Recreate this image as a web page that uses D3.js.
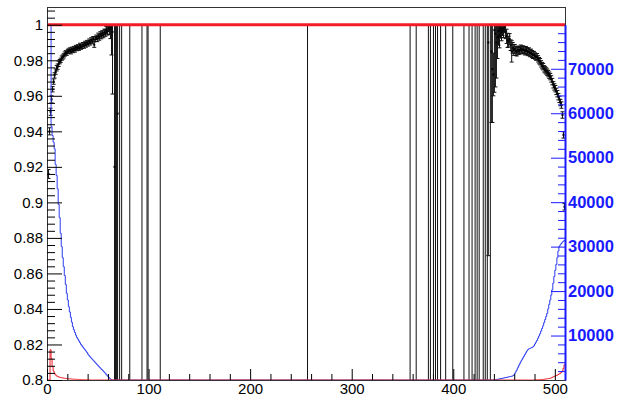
<!DOCTYPE html>
<html>
<head>
<meta charset="utf-8">
<script src="https://cdn.jsdelivr.net/npm/d3@7"></script>
<style>
  html, body { margin: 0; padding: 0; background: #fff; }
  svg { display: block; font-family: "Liberation Sans", Arial, Helvetica, sans-serif; }
</style>
</head>
<body>
<div id="chart"></div>
<script>
const nBins = 510;
const xTicks = [0, 100, 200, 300, 400, 500];
const yTicks = [0.8, 0.82, 0.84, 0.86, 0.88, 0.9, 0.92, 0.94, 0.96, 0.98, 1];
const rightTicks = [10000, 20000, 30000, 40000, 50000, 60000, 70000];
const rightMax = 79900;

// efficiency points: [bin, value, error]
const effLeft = [
  [1,0.916,0.0025],[2,0.940,0.002],[3,0.951,0.002],[4,0.958,0.002],[5,0.9637,0.0015],
  [6,0.968,0.0015],[7,0.9715,0.0015],[8,0.9736,0.0015],[9,0.9755,0.0015],[10,0.9764,0.0015],
  [11,0.978,0.0015],[12,0.9792,0.0012],[13,0.980,0.0012],[14,0.9812,0.0012],[15,0.9818,0.0012],
  [16,0.9825,0.0012],[17,0.9835,0.0012],[18,0.9842,0.0012],[19,0.984,0.0012],[20,0.985,0.0012],
  [21,0.9852,0.0012],[22,0.9858,0.0012],[23,0.9848,0.0012],[24,0.9862,0.0012],[25,0.9855,0.0012],
  [26,0.9866,0.0012],[27,0.9858,0.0012],[28,0.9872,0.0012],[29,0.9866,0.0012],[30,0.9876,0.0012],
  [31,0.9868,0.0012],[32,0.9884,0.0012],[33,0.9874,0.0012],[34,0.9878,0.0012],[35,0.9888,0.0012],
  [36,0.988,0.0012],[37,0.9895,0.0012],[38,0.9886,0.0012],[39,0.990,0.0012],[40,0.9892,0.0012],
  [41,0.9908,0.0012],[42,0.9898,0.0012],[43,0.9915,0.0012],[44,0.9905,0.0012],[45,0.9922,0.0012],
  [46,0.9888,0.0015],[47,0.9918,0.0012],[48,0.993,0.0012],[49,0.992,0.0015],[50,0.9938,0.0015],
  [51,0.9928,0.0015],[52,0.9946,0.0015],[53,0.9936,0.0015],[54,0.9952,0.0015],[55,0.9942,0.0015],
  [56,0.996,0.0015],[57,0.9955,0.002],[58,0.997,0.002],[59,0.9962,0.002],[60,0.9982,0.002],
  [61,0.9975,0.003],[62,0.9992,0.007],[63,0.998,0.015],[64,0.996,0.035],[66,0.92,0.14],[69,0.95,0.2]
];
const effRight = [
  [434,0.99,0.12],[437,0.985,0.04],[438,0.975,0.03],[439,0.972,0.012],
  [440,0.997,0.035],[441,0.995,0.03],[442,0.99,0.02],[443,0.993,0.012],[444,0.9965,0.008],
  [445,0.994,0.007],[446,0.9975,0.005],[447,0.996,0.005],[448,0.998,0.004],[449,0.9968,0.004],
  [450,0.9985,0.003],[451,0.9962,0.004],[452,0.9935,0.004],[453,0.9912,0.004],[454,0.9905,0.003],
  [455,0.992,0.003],[456,0.9885,0.003],[457,0.985,0.006],[458,0.987,0.003],[459,0.9858,0.003],
  [460,0.9864,0.0025],[461,0.9852,0.0025],[462,0.9849,0.0025],[463,0.986,0.002],[464,0.9852,0.002],
  [465,0.9858,0.002],[466,0.9866,0.002],[467,0.9856,0.002],[468,0.9862,0.002],[469,0.9858,0.002],
  [470,0.985,0.002],[471,0.9858,0.002],[472,0.9852,0.002],[473,0.9846,0.002],[474,0.985,0.002],
  [475,0.984,0.002],[476,0.9843,0.002],[477,0.9835,0.002],[478,0.983,0.002],[479,0.9832,0.0018],
  [480,0.9824,0.0018],[481,0.9818,0.0018],[482,0.982,0.0018],[483,0.9808,0.0018],[484,0.9798,0.0018],
  [485,0.9792,0.0018],[486,0.978,0.0018],[487,0.977,0.0018],[488,0.9764,0.0018],[489,0.9752,0.0018],
  [490,0.9746,0.0018],[491,0.974,0.0018],[492,0.9733,0.0018],[493,0.9725,0.0018],[494,0.9716,0.0018],
  [495,0.9708,0.0018],[496,0.9695,0.0018],[497,0.968,0.0018],[498,0.9662,0.0018],[499,0.965,0.0018],
  [500,0.964,0.0018],[501,0.9625,0.0018],[502,0.9612,0.0018],[503,0.9595,0.0018],[504,0.958,0.0018],
  [505,0.9562,0.0018],[506,0.9548,0.0018],[507,0.9492,0.0018],[508,0.938,0.0018],[509,0.8975,0.0018]
];
// bins at 1 whose error bar runs over the whole range
const openBins = [67,68,71,73,81,93,98,99,111,256,357,363,375,377,380,382,384,
  387,392,399,410,415,418,421,423,425,429,431,433,436];

// blue histogram (right axis), tails; bins between are empty
const blueLeft = [79800,79800,79800,79800,57000,55000,53500,52000,48500,46000,
  43000,39500,36500,33000,30000,27500,25500,23500,21500,19500,
  18000,16500,15300,14100,13000,12000,11300,10700,10100,9600,
  9200,8800,8400,8000,7700,7400,7100,6800,6500,6200,
  5800,5500,5200,4950,4700,4450,4200,3950,3700,3450,
  3200,2950,2700,2450,2250,2000,1750,1500,1200,950,
  700,450,200,50];
const blueRightStart = 440;
const blueRight = [0,40,90,140,190,240,290,340,390,440,
  490,540,590,640,690,740,790,850,920,1000,
  1400,1800,2200,2700,3200,3650,4100,4500,4900,5300,
  5700,6100,6500,6800,7000,7100,7200,7300,7450,7700,
  8100,8500,8900,9400,9900,10400,11000,11600,12200,12900,
  13600,14300,15000,16000,17000,18000,19100,20300,21800,23300,
  24700,26000,27500,29000,30000,30400,30700,31000,31200,31400];

// red histogram (right axis), tails
const redLeft = [0,0,0,6800,4800,3000,2000,1500,1150,950,800,700,620,560,500,460,420,390,360,330,
  300,280,260,240,220,200,185,170,155,140,130,120,110,100,90,80,70,60,50,40,30,20,10];
const redRightStart = 480;
const redRight = [30,40,50,60,70,85,100,115,130,150,200,230,260,300,340,400,480,580,700,800,
  900,1000,1100,1250,1400,1500,1750,2000,2600,3400];

const width = 635, height = 396;
const margin = { top: 7, right: 70, bottom: 16, left: 47 };
const plotW = width - margin.left - margin.right;
const plotH = height - margin.top - margin.bottom;
const blue = '#1a1aff';

const svg = d3.select('#chart').append('svg')
  .attr('width', width)
  .attr('height', height);

const x = d3.scaleLinear().domain([0, nBins]).range([margin.left, margin.left + plotW]);
const y = d3.scaleLinear().domain([0.8, 1.01]).range([margin.top + plotH, margin.top]);
const yR = d3.scaleLinear().domain([0, rightMax]).range([margin.top + plotH, y(1)]);

svg.append('clipPath').attr('id', 'plotClip')
  .append('rect')
  .attr('x', margin.left).attr('y', margin.top)
  .attr('width', plotW).attr('height', plotH);

const plot = svg.append('g').attr('clip-path', 'url(#plotClip)');

// build full histograms
function fullHist(left, right, rightStart) {
  const h = new Array(nBins).fill(0);
  left.forEach((v, i) => { h[i] = v; });
  right.forEach((v, i) => { h[rightStart + i] = v; });
  return h;
}
const blueHist = fullHist(blueLeft, blueRight, blueRightStart);
const redHist = fullHist(redLeft, redRight, redRightStart);

const stepLine = d3.line()
  .x(d => x(d[0]))
  .y(d => yR(d[1]))
  .curve(d3.curveStepAfter);

function stepPoints(h) {
  const pts = h.map((v, i) => [i, v]);
  pts.push([nBins, h[nBins - 1]]);
  return pts;
}

// efficiency points, errors bounded at 1
const effPoints = effLeft.concat(effRight)
  .map(d => ({ bin: d[0], v: d[1], lo: d[2], hi: Math.min(d[2], 1 - d[1]) }))
  .concat(openBins.map(b => ({ bin: b, v: 1, lo: 0.5, hi: 0 })));

const eff = plot.append('g').attr('class', 'eff');
eff.selectAll('line.err')
  .data(effPoints)
  .enter().append('line')
  .attr('class', 'err')
  .attr('x1', d => x(d.bin + 0.5)).attr('x2', d => x(d.bin + 0.5))
  .attr('y1', d => y(d.v - d.lo)).attr('y2', d => y(d.v + d.hi))
  .attr('stroke', '#111').attr('stroke-width', 1);

eff.selectAll('path.cap')
  .data(effPoints.filter(d => d.lo < 0.5))
  .enter().append('path')
  .attr('class', 'cap')
  .attr('d', d => {
    const cx = x(d.bin + 0.5);
    return `M${cx - 2},${y(d.v - d.lo)}H${cx + 2}M${cx - 2},${y(d.v + d.hi)}H${cx + 2}`;
  })
  .attr('stroke', '#111').attr('stroke-width', 1).attr('fill', 'none');

eff.selectAll('rect.mk')
  .data(effPoints.filter(d => d.lo < 0.5))
  .enter().append('rect')
  .attr('class', 'mk')
  .attr('x', d => x(d.bin + 0.5) - 1).attr('y', d => y(d.v) - 1)
  .attr('width', 2).attr('height', 2)
  .attr('fill', '#000');

// histograms
plot.append('path')
  .attr('d', stepLine(stepPoints(blueHist)))
  .attr('fill', 'none').attr('stroke', '#2a3cf2').attr('stroke-width', 1);

plot.append('path')
  .attr('d', stepLine(stepPoints(redHist)))
  .attr('fill', 'none').attr('stroke', '#f0202a').attr('stroke-width', 1);

// reference line at 1
plot.append('line')
  .attr('x1', x(0)).attr('x2', x(nBins))
  .attr('y1', y(1)).attr('y2', y(1))
  .attr('stroke', '#f21d24').attr('stroke-width', 3);

// frame
svg.append('rect')
  .attr('x', margin.left).attr('y', margin.top)
  .attr('width', plotW).attr('height', plotH)
  .attr('fill', 'none').attr('stroke', '#333').attr('stroke-width', 1)
  .attr('shape-rendering', 'crispEdges');

const fmt = d => String(+d.toFixed(2));

// left axis
const yMinor = d3.range(0.8, 1.0081, 0.004).filter(v => Math.abs(v * 50 - Math.round(v * 50)) > 1e-6);
svg.append('g')
  .attr('transform', `translate(${margin.left},0)`)
  .call(d3.axisLeft(y).tickValues(yMinor).tickSize(-8).tickSizeOuter(0).tickFormat(''))
  .call(g => g.select('.domain').remove());
const yAxis = svg.append('g')
  .attr('transform', `translate(${margin.left},0)`)
  .call(d3.axisLeft(y).tickValues(yTicks).tickSize(-15).tickSizeOuter(0).tickPadding(4).tickFormat(fmt));
yAxis.select('.domain').remove();
yAxis.selectAll('text').attr('font-size', 15).attr('font-family', '"Liberation Sans", Arial, sans-serif').attr('fill', '#000');

// bottom axis
const xMinor = d3.range(0, nBins + 1, 20).filter(v => v % 100 !== 0);
svg.append('g')
  .attr('transform', `translate(0,${margin.top + plotH})`)
  .call(d3.axisBottom(x).tickValues(xMinor).tickSize(-6).tickSizeOuter(0).tickFormat(''))
  .call(g => g.select('.domain').remove());
const xAxis = svg.append('g')
  .attr('transform', `translate(0,${margin.top + plotH})`)
  .call(d3.axisBottom(x).tickValues(xTicks).tickSize(-11).tickSizeOuter(0).tickPadding(3));
xAxis.select('.domain').remove();
xAxis.selectAll('text').attr('font-size', 15).attr('font-family', '"Liberation Sans", Arial, sans-serif').attr('fill', '#000');

// right axis (counts)
const rx = margin.left + plotW;
const rMinor = d3.range(2000, rightMax, 2000).filter(v => v % 10000 !== 0);
svg.append('g')
  .attr('transform', `translate(${rx},0)`)
  .call(d3.axisRight(yR).tickValues(rMinor).tickSize(-7).tickSizeOuter(0).tickFormat(''))
  .call(g => g.select('.domain').remove())
  .call(g => g.selectAll('line').attr('stroke', blue));
const rAxis = svg.append('g')
  .attr('transform', `translate(${rx},0)`)
  .call(d3.axisRight(yR).tickValues(rightTicks).tickSize(-14).tickSizeOuter(0).tickPadding(3).tickFormat(d3.format('d')));
rAxis.select('.domain').attr('stroke', blue).attr('stroke-width', 2);
rAxis.selectAll('line').attr('stroke', blue);
rAxis.selectAll('text')
  .attr('font-size', 16.5).attr('font-weight', 'bold')
  .attr('font-family', '"Liberation Sans", Arial, sans-serif').attr('fill', blue);
</script>
</body>
</html>
